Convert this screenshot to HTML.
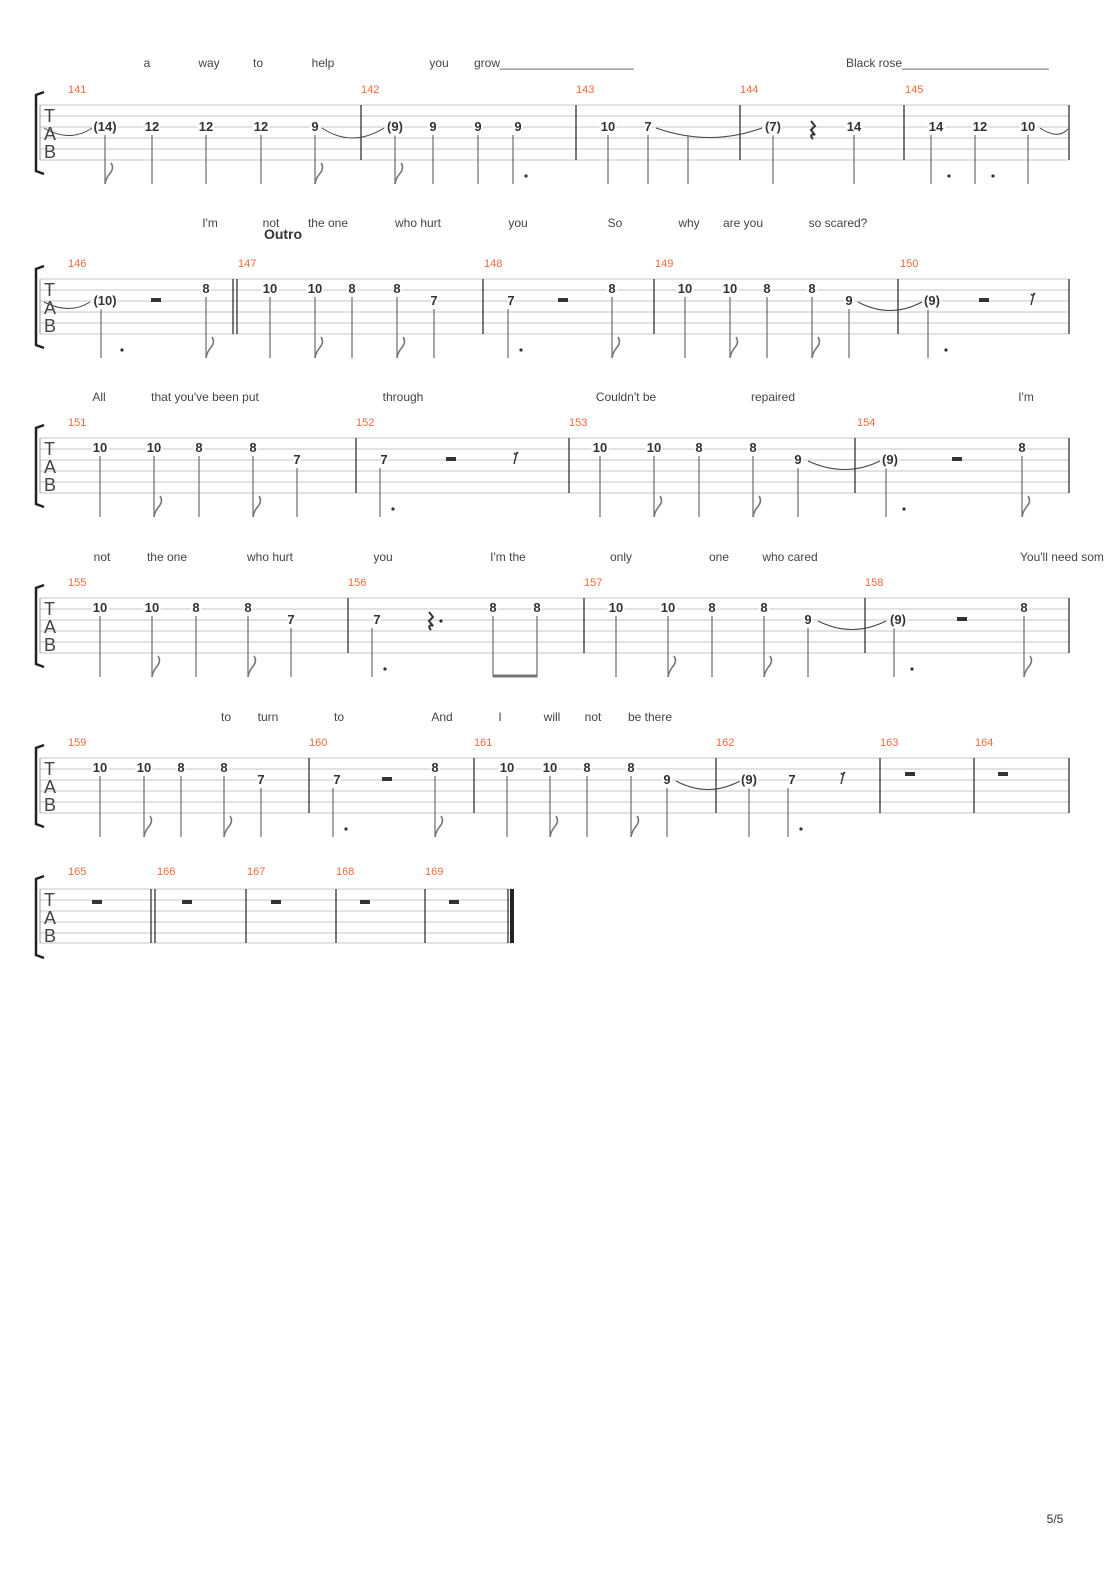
<!DOCTYPE html>
<html><head><meta charset="utf-8"><style>
body{margin:0;background:#fff}
svg{display:block}
.n{font:bold 13px "Liberation Sans",sans-serif;fill:#333;text-anchor:middle;paint-order:stroke;stroke:#fff;stroke-width:4px}
.m{font:11px "Liberation Sans",sans-serif;fill:#f26a3c}
.l{font:12px "Liberation Sans",sans-serif;fill:#444}
.st line{stroke:#c4c4c4;stroke-width:1}
.s{stroke:#777;stroke-width:1.3}
.b{stroke:#333;stroke-width:1.3}
.tab{font:18px "Liberation Sans",sans-serif;fill:#444}
.t{fill:none;stroke:#444;stroke-width:1}
</style></head><body>
<svg width="1110" height="1570" viewBox="0 0 1110 1570">
<defs>
<path id="f" d="M0,79 c1,-6 3,-8 6,-12 c2,-3 2,-6 0,-9" fill="none" stroke="#777" stroke-width="1.6"/>
<circle id="d" cx="9" cy="71" r="1.6" fill="#333"/>
<rect id="r" x="-5" y="-2" width="10" height="4" fill="#333"/>
<path id="q" d="M-2,-8 l4,5 l-4,4 l4,5 c-4,-2 -5,1 -2,4" fill="none" stroke="#333" stroke-width="2"/>
<path id="e8" d="M1,-6 l-3,12 M-2,-5 c1,2 3,1 4,-1" fill="none" stroke="#333" stroke-width="1.4"/>
<g id="staff" class="st"><line x1="40" y1="0" x2="1069" y2="0"/><line x1="40" y1="11" x2="1069" y2="11"/><line x1="40" y1="22" x2="1069" y2="22"/><line x1="40" y1="33" x2="1069" y2="33"/><line x1="40" y1="44" x2="1069" y2="44"/><line x1="40" y1="55" x2="1069" y2="55"/><line x1="40" y1="0" x2="40" y2="55" style="stroke:#999"/></g>
<g id="brk"><path d="M44,-13 l-8,3 v76 l8,3" fill="none" stroke="#222" stroke-width="2.5"/></g>
</defs>

<!-- System 1 -->
<text class="l" x="147" y="67" text-anchor="middle">a</text><text class="l" x="209" y="67" text-anchor="middle">way</text><text class="l" x="258" y="67" text-anchor="middle">to</text><text class="l" x="323" y="67" text-anchor="middle">help</text><text class="l" x="439" y="67" text-anchor="middle">you</text><text class="l" x="474" y="67">grow____________________</text><text class="l" x="846" y="67">Black rose______________________</text>
<g transform="translate(0,105)">
<use href="#staff"/><use href="#brk"/>
<text class="tab" x="44" y="17">T</text><text class="tab" x="44" y="35">A</text><text class="tab" x="44" y="53">B</text>
<line class="b" x1="361" y1="0" x2="361" y2="55"/><line class="b" x1="576" y1="0" x2="576" y2="55"/><line class="b" x1="740" y1="0" x2="740" y2="55"/><line class="b" x1="904" y1="0" x2="904" y2="55"/><line class="b" x1="1069" y1="0" x2="1069" y2="55"/>
<text class="m" x="68" y="-12">141</text><text class="m" x="361" y="-12">142</text><text class="m" x="576" y="-12">143</text><text class="m" x="740" y="-12">144</text><text class="m" x="905" y="-12">145</text>
<path class="t" d="M44,23 Q70,38 92,23"/><path class="t" d="M322,23 Q352,43 384,23"/><path class="t" d="M656,23 Q710,42 762,23"/><path class="t" d="M1040,23 Q1058,35 1068,24"/>
<line class="s" x1="105" y1="30" x2="105" y2="79"/><use href="#f" x="105"/>
<line class="s" x1="152" y1="30" x2="152" y2="79"/><line class="s" x1="206" y1="30" x2="206" y2="79"/><line class="s" x1="261" y1="30" x2="261" y2="79"/>
<line class="s" x1="315" y1="30" x2="315" y2="79"/><use href="#f" x="315"/>
<line class="s" x1="395" y1="30" x2="395" y2="79"/><use href="#f" x="395"/>
<line class="s" x1="433" y1="30" x2="433" y2="79"/><line class="s" x1="478" y1="30" x2="478" y2="79"/><line class="s" x1="513" y1="30" x2="513" y2="79"/><use href="#d" x="517"/>
<line class="s" x1="608" y1="30" x2="608" y2="79"/><line class="s" x1="648" y1="30" x2="648" y2="79"/><line class="s" x1="688" y1="30" x2="688" y2="79"/><line class="s" x1="773" y1="30" x2="773" y2="79"/>
<use href="#q" x="813" y="24"/>
<line class="s" x1="854" y1="30" x2="854" y2="79"/><line class="s" x1="931" y1="30" x2="931" y2="79"/><use href="#d" x="940"/><line class="s" x1="975" y1="30" x2="975" y2="79"/><use href="#d" x="984"/><line class="s" x1="1028" y1="30" x2="1028" y2="79"/>
<text class="n" x="105" y="26">(14)</text><text class="n" x="152" y="26">12</text><text class="n" x="206" y="26">12</text><text class="n" x="261" y="26">12</text><text class="n" x="315" y="26">9</text><text class="n" x="395" y="26">(9)</text><text class="n" x="433" y="26">9</text><text class="n" x="478" y="26">9</text><text class="n" x="518" y="26">9</text><text class="n" x="608" y="26">10</text><text class="n" x="648" y="26">7</text><text class="n" x="773" y="26">(7)</text><text class="n" x="854" y="26">14</text><text class="n" x="936" y="26">14</text><text class="n" x="980" y="26">12</text><text class="n" x="1028" y="26">10</text>
</g>

<!-- System 2 -->
<text class="l" x="210" y="227" text-anchor="middle">I'm</text><text class="l" x="271" y="227" text-anchor="middle">not</text><text class="l" x="328" y="227" text-anchor="middle">the one</text><text class="l" x="418" y="227" text-anchor="middle">who hurt</text><text class="l" x="518" y="227" text-anchor="middle">you</text><text class="l" x="615" y="227" text-anchor="middle">So</text><text class="l" x="689" y="227" text-anchor="middle">why</text><text class="l" x="743" y="227" text-anchor="middle">are you</text><text class="l" x="838" y="227" text-anchor="middle">so scared?</text>
<text x="283" y="239" text-anchor="middle" style="font:bold 14px 'Liberation Sans',sans-serif;fill:#333">Outro</text>
<g transform="translate(0,279)">
<use href="#staff"/><use href="#brk"/>
<text class="tab" x="44" y="17">T</text><text class="tab" x="44" y="35">A</text><text class="tab" x="44" y="53">B</text>
<line class="b" x1="233" y1="0" x2="233" y2="55"/><line class="b" x1="237" y1="0" x2="237" y2="55"/><line class="b" x1="483" y1="0" x2="483" y2="55"/><line class="b" x1="654" y1="0" x2="654" y2="55"/><line class="b" x1="898" y1="0" x2="898" y2="55"/><line class="b" x1="1069" y1="0" x2="1069" y2="55"/>
<text class="m" x="68" y="-12">146</text><text class="m" x="238" y="-12">147</text><text class="m" x="484" y="-12">148</text><text class="m" x="655" y="-12">149</text><text class="m" x="900" y="-12">150</text>
<path class="t" d="M44,23 Q70,36 90,23"/><path class="t" d="M858,23 Q890,40 922,23"/>
<line class="s" x1="101" y1="30" x2="101" y2="79"/><use href="#d" x="113"/><use href="#r" x="156" y="21"/>
<line class="s" x1="206" y1="18" x2="206" y2="79"/><use href="#f" x="206"/>
<line class="s" x1="270" y1="18" x2="270" y2="79"/><line class="s" x1="315" y1="18" x2="315" y2="79"/><use href="#f" x="315"/><line class="s" x1="352" y1="18" x2="352" y2="79"/><line class="s" x1="397" y1="18" x2="397" y2="79"/><use href="#f" x="397"/><line class="s" x1="434" y1="30" x2="434" y2="79"/>
<line class="s" x1="508" y1="30" x2="508" y2="79"/><use href="#d" x="512"/><use href="#r" x="563" y="21"/><line class="s" x1="612" y1="18" x2="612" y2="79"/><use href="#f" x="612"/>
<line class="s" x1="685" y1="18" x2="685" y2="79"/><line class="s" x1="730" y1="18" x2="730" y2="79"/><use href="#f" x="730"/><line class="s" x1="767" y1="18" x2="767" y2="79"/><line class="s" x1="812" y1="18" x2="812" y2="79"/><use href="#f" x="812"/><line class="s" x1="849" y1="30" x2="849" y2="79"/>
<line class="s" x1="928" y1="30" x2="928" y2="79"/><use href="#d" x="937"/><use href="#r" x="984" y="21"/><use href="#e8" x="1033" y="20"/>
<text class="n" x="105" y="26">(10)</text><text class="n" x="206" y="14">8</text><text class="n" x="270" y="14">10</text><text class="n" x="315" y="14">10</text><text class="n" x="352" y="14">8</text><text class="n" x="397" y="14">8</text><text class="n" x="434" y="26">7</text><text class="n" x="511" y="26">7</text><text class="n" x="612" y="14">8</text><text class="n" x="685" y="14">10</text><text class="n" x="730" y="14">10</text><text class="n" x="767" y="14">8</text><text class="n" x="812" y="14">8</text><text class="n" x="849" y="26">9</text><text class="n" x="932" y="26">(9)</text>
</g>

<!-- System 3 -->
<text class="l" x="99" y="401" text-anchor="middle">All</text><text class="l" x="205" y="401" text-anchor="middle">that you've been put</text><text class="l" x="403" y="401" text-anchor="middle">through</text><text class="l" x="626" y="401" text-anchor="middle">Couldn't be</text><text class="l" x="773" y="401" text-anchor="middle">repaired</text><text class="l" x="1026" y="401" text-anchor="middle">I'm</text>
<g transform="translate(0,438)">
<use href="#staff"/><use href="#brk"/>
<text class="tab" x="44" y="17">T</text><text class="tab" x="44" y="35">A</text><text class="tab" x="44" y="53">B</text>
<line class="b" x1="356" y1="0" x2="356" y2="55"/><line class="b" x1="569" y1="0" x2="569" y2="55"/><line class="b" x1="855" y1="0" x2="855" y2="55"/><line class="b" x1="1069" y1="0" x2="1069" y2="55"/>
<text class="m" x="68" y="-12">151</text><text class="m" x="356" y="-12">152</text><text class="m" x="569" y="-12">153</text><text class="m" x="857" y="-12">154</text>
<path class="t" d="M808,23 Q845,40 880,23"/>
<line class="s" x1="100" y1="18" x2="100" y2="79"/><line class="s" x1="154" y1="18" x2="154" y2="79"/><use href="#f" x="154"/><line class="s" x1="199" y1="18" x2="199" y2="79"/><line class="s" x1="253" y1="18" x2="253" y2="79"/><use href="#f" x="253"/><line class="s" x1="297" y1="30" x2="297" y2="79"/>
<line class="s" x1="380" y1="30" x2="380" y2="79"/><use href="#d" x="384"/><use href="#r" x="451" y="21"/><use href="#e8" x="516" y="20"/>
<line class="s" x1="600" y1="18" x2="600" y2="79"/><line class="s" x1="654" y1="18" x2="654" y2="79"/><use href="#f" x="654"/><line class="s" x1="699" y1="18" x2="699" y2="79"/><line class="s" x1="753" y1="18" x2="753" y2="79"/><use href="#f" x="753"/><line class="s" x1="798" y1="30" x2="798" y2="79"/>
<line class="s" x1="886" y1="30" x2="886" y2="79"/><use href="#d" x="895"/><use href="#r" x="957" y="21"/><line class="s" x1="1022" y1="18" x2="1022" y2="79"/><use href="#f" x="1022"/>
<text class="n" x="100" y="14">10</text><text class="n" x="154" y="14">10</text><text class="n" x="199" y="14">8</text><text class="n" x="253" y="14">8</text><text class="n" x="297" y="26">7</text><text class="n" x="384" y="26">7</text><text class="n" x="600" y="14">10</text><text class="n" x="654" y="14">10</text><text class="n" x="699" y="14">8</text><text class="n" x="753" y="14">8</text><text class="n" x="798" y="26">9</text><text class="n" x="890" y="26">(9)</text><text class="n" x="1022" y="14">8</text>
</g>

<!-- System 4 -->
<text class="l" x="102" y="561" text-anchor="middle">not</text><text class="l" x="167" y="561" text-anchor="middle">the one</text><text class="l" x="270" y="561" text-anchor="middle">who hurt</text><text class="l" x="383" y="561" text-anchor="middle">you</text><text class="l" x="508" y="561" text-anchor="middle">I'm the</text><text class="l" x="621" y="561" text-anchor="middle">only</text><text class="l" x="719" y="561" text-anchor="middle">one</text><text class="l" x="790" y="561" text-anchor="middle">who cared</text><text class="l" x="1020" y="561">You'll need som</text>
<g transform="translate(0,598)">
<use href="#staff"/><use href="#brk"/>
<text class="tab" x="44" y="17">T</text><text class="tab" x="44" y="35">A</text><text class="tab" x="44" y="53">B</text>
<line class="b" x1="348" y1="0" x2="348" y2="55"/><line class="b" x1="584" y1="0" x2="584" y2="55"/><line class="b" x1="865" y1="0" x2="865" y2="55"/><line class="b" x1="1069" y1="0" x2="1069" y2="55"/>
<text class="m" x="68" y="-12">155</text><text class="m" x="348" y="-12">156</text><text class="m" x="584" y="-12">157</text><text class="m" x="865" y="-12">158</text>
<path class="t" d="M818,23 Q852,40 886,23"/>
<line class="s" x1="100" y1="18" x2="100" y2="79"/><line class="s" x1="152" y1="18" x2="152" y2="79"/><use href="#f" x="152"/><line class="s" x1="196" y1="18" x2="196" y2="79"/><line class="s" x1="248" y1="18" x2="248" y2="79"/><use href="#f" x="248"/><line class="s" x1="291" y1="30" x2="291" y2="79"/>
<line class="s" x1="372" y1="30" x2="372" y2="79"/><use href="#d" x="376"/><use href="#q" x="431" y="22"/><circle cx="441" cy="23" r="1.6" fill="#333"/>
<line class="s" x1="493" y1="18" x2="493" y2="79"/><line class="s" x1="537" y1="18" x2="537" y2="79"/><line x1="493" y1="78" x2="537" y2="78" stroke="#777" stroke-width="3"/>
<line class="s" x1="616" y1="18" x2="616" y2="79"/><line class="s" x1="668" y1="18" x2="668" y2="79"/><use href="#f" x="668"/><line class="s" x1="712" y1="18" x2="712" y2="79"/><line class="s" x1="764" y1="18" x2="764" y2="79"/><use href="#f" x="764"/><line class="s" x1="808" y1="30" x2="808" y2="79"/>
<line class="s" x1="894" y1="30" x2="894" y2="79"/><use href="#d" x="903"/><use href="#r" x="962" y="21"/><line class="s" x1="1024" y1="18" x2="1024" y2="79"/><use href="#f" x="1024"/>
<text class="n" x="100" y="14">10</text><text class="n" x="152" y="14">10</text><text class="n" x="196" y="14">8</text><text class="n" x="248" y="14">8</text><text class="n" x="291" y="26">7</text><text class="n" x="377" y="26">7</text><text class="n" x="493" y="14">8</text><text class="n" x="537" y="14">8</text><text class="n" x="616" y="14">10</text><text class="n" x="668" y="14">10</text><text class="n" x="712" y="14">8</text><text class="n" x="764" y="14">8</text><text class="n" x="808" y="26">9</text><text class="n" x="898" y="26">(9)</text><text class="n" x="1024" y="14">8</text>
</g>

<!-- System 5 -->
<text class="l" x="226" y="721" text-anchor="middle">to</text><text class="l" x="268" y="721" text-anchor="middle">turn</text><text class="l" x="339" y="721" text-anchor="middle">to</text><text class="l" x="442" y="721" text-anchor="middle">And</text><text class="l" x="500" y="721" text-anchor="middle">I</text><text class="l" x="552" y="721" text-anchor="middle">will</text><text class="l" x="593" y="721" text-anchor="middle">not</text><text class="l" x="650" y="721" text-anchor="middle">be there</text>
<g transform="translate(0,758)">
<use href="#staff"/><use href="#brk"/>
<text class="tab" x="44" y="17">T</text><text class="tab" x="44" y="35">A</text><text class="tab" x="44" y="53">B</text>
<line class="b" x1="309" y1="0" x2="309" y2="55"/><line class="b" x1="474" y1="0" x2="474" y2="55"/><line class="b" x1="716" y1="0" x2="716" y2="55"/><line class="b" x1="880" y1="0" x2="880" y2="55"/><line class="b" x1="974" y1="0" x2="974" y2="55"/><line class="b" x1="1069" y1="0" x2="1069" y2="55"/>
<text class="m" x="68" y="-12">159</text><text class="m" x="309" y="-12">160</text><text class="m" x="474" y="-12">161</text><text class="m" x="716" y="-12">162</text><text class="m" x="880" y="-12">163</text><text class="m" x="975" y="-12">164</text>
<path class="t" d="M676,23 Q708,40 740,23"/>
<line class="s" x1="100" y1="18" x2="100" y2="79"/><line class="s" x1="144" y1="18" x2="144" y2="79"/><use href="#f" x="144"/><line class="s" x1="181" y1="18" x2="181" y2="79"/><line class="s" x1="224" y1="18" x2="224" y2="79"/><use href="#f" x="224"/><line class="s" x1="261" y1="30" x2="261" y2="79"/>
<line class="s" x1="333" y1="30" x2="333" y2="79"/><use href="#d" x="337"/><use href="#r" x="387" y="21"/><line class="s" x1="435" y1="18" x2="435" y2="79"/><use href="#f" x="435"/>
<line class="s" x1="507" y1="18" x2="507" y2="79"/><line class="s" x1="550" y1="18" x2="550" y2="79"/><use href="#f" x="550"/><line class="s" x1="587" y1="18" x2="587" y2="79"/><line class="s" x1="631" y1="18" x2="631" y2="79"/><use href="#f" x="631"/><line class="s" x1="667" y1="30" x2="667" y2="79"/>
<line class="s" x1="749" y1="30" x2="749" y2="79"/><line class="s" x1="788" y1="30" x2="788" y2="79"/><use href="#d" x="792"/><use href="#e8" x="843" y="20"/><use href="#r" x="910" y="16"/><use href="#r" x="1003" y="16"/>
<text class="n" x="100" y="14">10</text><text class="n" x="144" y="14">10</text><text class="n" x="181" y="14">8</text><text class="n" x="224" y="14">8</text><text class="n" x="261" y="26">7</text><text class="n" x="337" y="26">7</text><text class="n" x="435" y="14">8</text><text class="n" x="507" y="14">10</text><text class="n" x="550" y="14">10</text><text class="n" x="587" y="14">8</text><text class="n" x="631" y="14">8</text><text class="n" x="667" y="26">9</text><text class="n" x="749" y="26">(9)</text><text class="n" x="792" y="26">7</text>
</g>

<!-- System 6 -->
<g transform="translate(0,889)">
<g class="st"><line x1="40" y1="0" x2="512" y2="0"/><line x1="40" y1="11" x2="512" y2="11"/><line x1="40" y1="22" x2="512" y2="22"/><line x1="40" y1="33" x2="512" y2="33"/><line x1="40" y1="44" x2="512" y2="44"/><line x1="40" y1="54" x2="512" y2="54"/><line x1="40" y1="0" x2="40" y2="54" style="stroke:#999"/></g>
<use href="#brk"/>
<text class="tab" x="44" y="17">T</text><text class="tab" x="44" y="35">A</text><text class="tab" x="44" y="53">B</text>
<line class="b" x1="151" y1="0" x2="151" y2="54"/><line class="b" x1="155" y1="0" x2="155" y2="54"/><line class="b" x1="246" y1="0" x2="246" y2="54"/><line class="b" x1="336" y1="0" x2="336" y2="54"/><line class="b" x1="425" y1="0" x2="425" y2="54"/><line class="b" x1="508" y1="0" x2="508" y2="54"/><rect x="510" y="0" width="4" height="54" fill="#222"/>
<text class="m" x="68" y="-14">165</text><text class="m" x="157" y="-14">166</text><text class="m" x="247" y="-14">167</text><text class="m" x="336" y="-14">168</text><text class="m" x="425" y="-14">169</text>
<use href="#r" x="97" y="13"/><use href="#r" x="187" y="13"/><use href="#r" x="276" y="13"/><use href="#r" x="365" y="13"/><use href="#r" x="454" y="13"/>
</g>

<text x="1055" y="1523" text-anchor="middle" style="font:12px 'Liberation Sans',sans-serif;fill:#333">5/5</text>
</svg>
</body></html>
